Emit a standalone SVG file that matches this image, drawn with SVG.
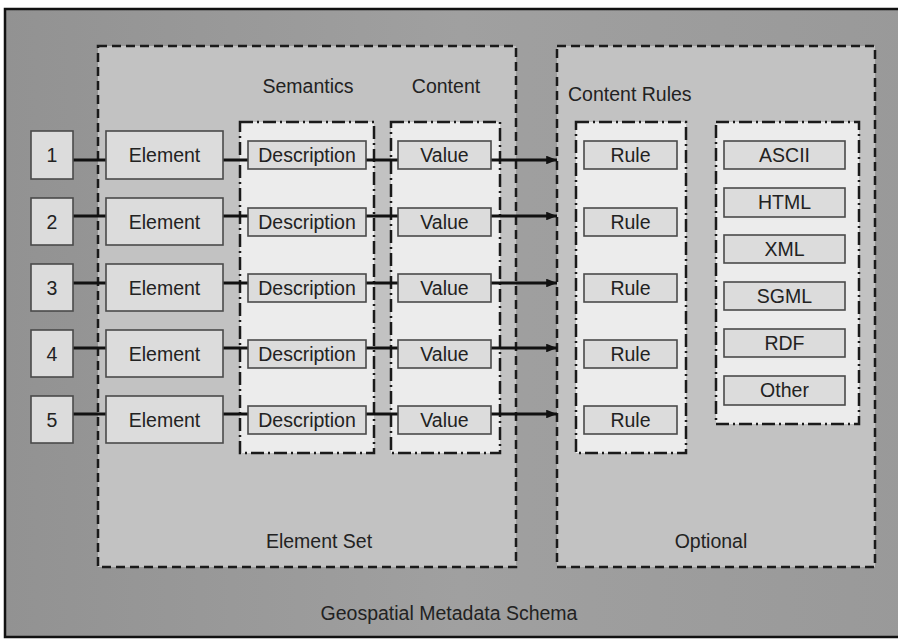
<svg xmlns="http://www.w3.org/2000/svg" width="898" height="639" viewBox="0 0 898 639">
<style>
text{font-family:"Liberation Sans",Arial,sans-serif;font-size:19.5px;fill:#222;}
.c{text-anchor:middle;}
.box{fill:#dcdcdc;stroke:#4a4a4a;stroke-width:1.6;}
.grp{fill:#c2c2c2;stroke:#1a1a1a;stroke-width:2.5;stroke-dasharray:9 5;}
.col{fill:#ececec;stroke:#1a1a1a;stroke-width:2.5;stroke-dasharray:13 4 2 4;}
.ln{stroke:#111;stroke-width:3;fill:none;}
</style>
<defs>
<marker id="ah" viewBox="0 0 10 8" refX="10" refY="4" markerWidth="3.6" markerHeight="2.9" markerUnits="strokeWidth" orient="auto">
<path d="M0,0 L10,4 L0,8 z" fill="#111"/>
</marker>
<linearGradient id="bg" x1="0" y1="0" x2="1" y2="0">
<stop offset="0" stop-color="#929292"/>
<stop offset="0.5" stop-color="#a0a0a0"/>
<stop offset="1" stop-color="#999"/>
</linearGradient>
</defs>
<rect width="898" height="639" fill="#fff"/>
<g id="schema">
<rect x="5" y="9" width="910" height="628" fill="url(#bg)" stroke="#111" stroke-width="2.5"/>
<text class="c" x="449" y="620">Geospatial Metadata Schema</text>
</g>
<g id="element-set">
<rect class="grp" x="98" y="46" width="418" height="521"/>
<text class="c" x="319" y="548">Element Set</text>
<text class="c" x="308" y="93">Semantics</text>
<text class="c" x="446" y="93">Content</text>
</g>
<g id="optional">
<rect class="grp" x="557" y="46" width="318" height="521"/>
<text class="c" x="711" y="548">Optional</text>
<text x="568" y="101">Content Rules</text>
</g>
<g id="semantics-col"><rect class="col" x="240" y="122" width="134" height="331"/></g>
<g id="content-col"><rect class="col" x="391" y="122" width="109" height="331"/></g>
<g id="rules-col"><rect class="col" x="576" y="122" width="110" height="331"/></g>
<g id="formats-col"><rect class="col" x="716" y="122" width="143" height="302"/></g>

<g id="connectors">
<path class="ln" d="M73,160H106M223,160H248M366,160H398"/>
<path class="ln" d="M491,160H557" marker-end="url(#ah)"/>
<path class="ln" d="M73,216H106M223,216H248M366,216H398"/>
<path class="ln" d="M491,216H557" marker-end="url(#ah)"/>
<path class="ln" d="M73,283H106M223,283H248M366,283H398"/>
<path class="ln" d="M491,283H557" marker-end="url(#ah)"/>
<path class="ln" d="M73,348H106M223,348H248M366,348H398"/>
<path class="ln" d="M491,348H557" marker-end="url(#ah)"/>
<path class="ln" d="M73,414H106M223,414H248M366,414H398"/>
<path class="ln" d="M491,414H557" marker-end="url(#ah)"/>
</g>

<g id="n1"><rect class="box" x="31" y="131" width="42" height="48"/><text class="c" x="52" y="162">1</text></g>
<g id="n2"><rect class="box" x="31" y="198" width="42" height="47"/><text class="c" x="52" y="229">2</text></g>
<g id="n3"><rect class="box" x="31" y="264" width="42" height="47"/><text class="c" x="52" y="295">3</text></g>
<g id="n4"><rect class="box" x="31" y="330" width="42" height="47"/><text class="c" x="52" y="361">4</text></g>
<g id="n5"><rect class="box" x="31" y="396" width="42" height="47"/><text class="c" x="52" y="427">5</text></g>

<g id="e1"><rect class="box" x="106" y="131" width="117" height="48"/><text class="c" x="164.5" y="162">Element</text></g>
<g id="e2"><rect class="box" x="106" y="198" width="117" height="47"/><text class="c" x="164.5" y="229">Element</text></g>
<g id="e3"><rect class="box" x="106" y="264" width="117" height="47"/><text class="c" x="164.5" y="295">Element</text></g>
<g id="e4"><rect class="box" x="106" y="330" width="117" height="47"/><text class="c" x="164.5" y="361">Element</text></g>
<g id="e5"><rect class="box" x="106" y="396" width="117" height="47"/><text class="c" x="164.5" y="427">Element</text></g>

<g id="d1"><rect class="box" x="248" y="141" width="118" height="28"/><text class="c" x="307" y="162">Description</text></g>
<g id="d2"><rect class="box" x="248" y="208" width="118" height="28"/><text class="c" x="307" y="229">Description</text></g>
<g id="d3"><rect class="box" x="248" y="274" width="118" height="28"/><text class="c" x="307" y="295">Description</text></g>
<g id="d4"><rect class="box" x="248" y="340" width="118" height="28"/><text class="c" x="307" y="361">Description</text></g>
<g id="d5"><rect class="box" x="248" y="406" width="118" height="28"/><text class="c" x="307" y="427">Description</text></g>

<g id="v1"><rect class="box" x="398" y="141" width="93" height="28"/><text class="c" x="444.5" y="162">Value</text></g>
<g id="v2"><rect class="box" x="398" y="208" width="93" height="28"/><text class="c" x="444.5" y="229">Value</text></g>
<g id="v3"><rect class="box" x="398" y="274" width="93" height="28"/><text class="c" x="444.5" y="295">Value</text></g>
<g id="v4"><rect class="box" x="398" y="340" width="93" height="28"/><text class="c" x="444.5" y="361">Value</text></g>
<g id="v5"><rect class="box" x="398" y="406" width="93" height="28"/><text class="c" x="444.5" y="427">Value</text></g>

<g id="r1"><rect class="box" x="584" y="141" width="93" height="28"/><text class="c" x="630.5" y="162">Rule</text></g>
<g id="r2"><rect class="box" x="584" y="208" width="93" height="28"/><text class="c" x="630.5" y="229">Rule</text></g>
<g id="r3"><rect class="box" x="584" y="274" width="93" height="28"/><text class="c" x="630.5" y="295">Rule</text></g>
<g id="r4"><rect class="box" x="584" y="340" width="93" height="28"/><text class="c" x="630.5" y="361">Rule</text></g>
<g id="r5"><rect class="box" x="584" y="406" width="93" height="28"/><text class="c" x="630.5" y="427">Rule</text></g>

<g id="f-ascii"><rect class="box" x="724" y="141" width="121" height="28"/><text class="c" x="784.5" y="162">ASCII</text></g>
<g id="f-html"><rect class="box" x="724" y="188" width="121" height="29"/><text class="c" x="784.5" y="209">HTML</text></g>
<g id="f-xml"><rect class="box" x="724" y="235" width="121" height="28"/><text class="c" x="784.5" y="256">XML</text></g>
<g id="f-sgml"><rect class="box" x="724" y="282" width="121" height="28"/><text class="c" x="784.5" y="303">SGML</text></g>
<g id="f-rdf"><rect class="box" x="724" y="329" width="121" height="28"/><text class="c" x="784.5" y="350">RDF</text></g>
<g id="f-other"><rect class="box" x="724" y="376" width="121" height="29"/><text class="c" x="784.5" y="397">Other</text></g>
</svg>
